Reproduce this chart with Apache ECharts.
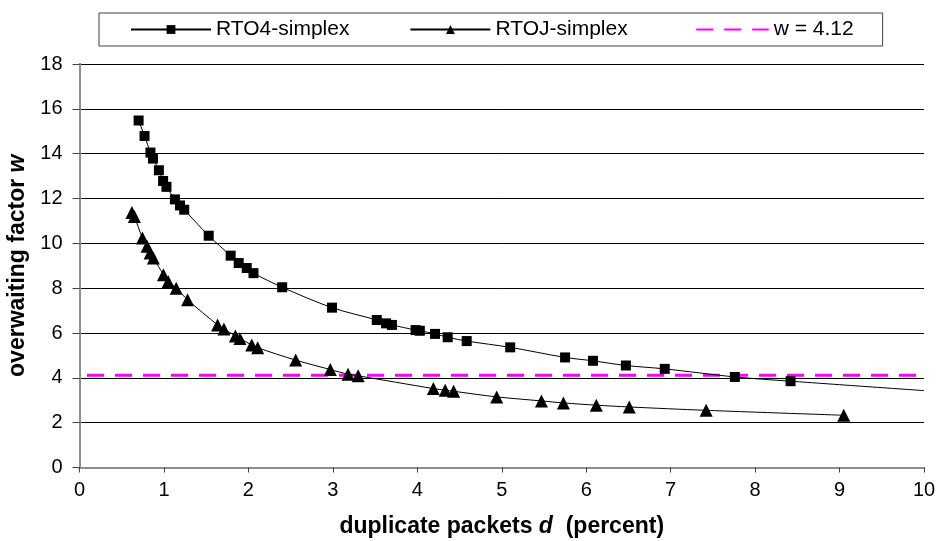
<!DOCTYPE html>
<html>
<head>
<meta charset="utf-8">
<script src="https://cdn.jsdelivr.net/npm/echarts@6/dist/echarts.min.js"></script>
<style>
  html, body { margin: 0; padding: 0; background: #fff; }
  #chart { width: 938px; height: 541px; }
</style>
</head>
<body>
<div id="chart"></div>
<script>
// duplicate packets d (percent) vs. overwaiting factor w
const rto4X = [0.70, 0.77, 0.84, 0.87, 0.94, 0.99, 1.03, 1.13, 1.19, 1.24, 1.53, 1.79, 1.885, 1.98, 2.06,
               2.40, 2.99, 3.52, 3.63, 3.70, 3.98, 4.03, 4.21, 4.36, 4.585, 5.10, 5.75, 6.08, 6.47, 6.93,
               7.76, 8.42, 10.0];
const rto4Y = [15.48, 14.79, 14.05, 13.78, 13.26, 12.78, 12.52, 11.96, 11.69, 11.50, 10.34, 9.45, 9.12, 8.90, 8.67,
               8.04, 7.13, 6.58, 6.43, 6.36, 6.13, 6.10, 5.96, 5.81, 5.64, 5.36, 4.91, 4.76, 4.55, 4.40,
               4.04, 3.85, 3.43];
// the curve runs on to the edge of the axis; that last point has no marker
const rto4Marked = 32;

const rtojX = [0.62, 0.65, 0.745, 0.80, 0.836, 0.875, 0.994, 1.05, 1.145, 1.28, 1.635, 1.71, 1.846, 1.90, 2.04,
               2.11, 2.56, 2.97, 3.18, 3.30, 4.19, 4.33, 4.43, 4.94, 5.47, 5.73, 6.12, 6.51, 7.42, 9.05];
const rtojY = [11.38, 11.2, 10.24, 9.87, 9.57, 9.35, 8.60, 8.30, 8.00, 7.48, 6.36, 6.18, 5.87, 5.76, 5.46,
               5.34, 4.79, 4.37, 4.16, 4.09, 3.52, 3.45, 3.40, 3.15, 2.97, 2.88, 2.78, 2.70, 2.55, 2.33];

const wLevel = 4.12;
const xRange = [0, 10];
const yRange = [0, 18];

const seriesNames = ['RTO4-simplex', 'RTOJ-simplex', 'w = ' + wLevel];

const FONT = '"Liberation Sans", Arial, sans-serif';

const rto4Data = rto4X.map((x, i) => {
  const item = { value: [x, rto4Y[i]] };
  if (i >= rto4Marked) item.symbol = 'none';
  return item;
});
const rtojData = rtojX.map((x, i) => [x, rtojY[i]]);
const wData = xRange.map(x => [x, wLevel]);

const titleRich = {
  n: { fontFamily: FONT, fontSize: 23, fontWeight: 'bold', color: '#000' },
  i: { fontFamily: FONT, fontSize: 23, fontWeight: 'bold', fontStyle: 'italic', color: '#000' }
};

const chart = echarts.init(document.getElementById('chart'), null, { renderer: 'canvas' });

chart.setOption({
  animation: false,
  backgroundColor: '#fff',
  textStyle: { fontFamily: FONT, color: '#000' },
  legend: {
    left: 99,
    top: 13,
    padding: [6, 29, 6, 31],
    itemGap: 60,
    itemWidth: 80,
    itemHeight: 11,
    borderColor: '#404040',
    borderWidth: 1,
    textStyle: { fontFamily: FONT, fontSize: 21, color: '#000' },
    data: [
      { name: seriesNames[0] },
      { name: seriesNames[1] },
      { name: seriesNames[2], itemStyle: { opacity: 0 } }
    ]
  },
  grid: { left: 79.5, right: 14, top: 64, bottom: 73.5, containLabel: false, outerBoundsMode: 'none' },
  xAxis: [{
    type: 'value',
    min: xRange[0], max: xRange[1], interval: 1,
    name: '{n|duplicate packets }{i|d}{n|  (percent)}',
    nameLocation: 'middle',
    nameGap: 48,
    nameTextStyle: { rich: titleRich },
    axisLine: { onZero: false, lineStyle: { color: '#404040', width: 2 } },
    axisTick: { show: true, inside: false, length: 5, lineStyle: { color: '#404040', width: 1 } },
    axisLabel: { fontFamily: FONT, fontSize: 20, color: '#000', margin: 13 },
    splitLine: { show: false }
  }, {
    type: 'value', position: 'top',
    min: xRange[0], max: xRange[1],
    axisLine: { show: true, lineStyle: { color: '#8c8c8c', width: 2 } },
    axisTick: { show: false }, axisLabel: { show: false }, splitLine: { show: false }
  }],
  yAxis: [{
    type: 'value',
    min: yRange[0], max: yRange[1], interval: 2,
    name: '{n|overwaiting factor }{i|w}',
    nameLocation: 'middle',
    nameGap: 50,
    nameTextStyle: { rich: titleRich },
    axisLine: { show: true, onZero: false, lineStyle: { color: '#404040', width: 2 } },
    axisTick: { show: true, inside: false, length: 7, lineStyle: { color: '#404040', width: 1 } },
    axisLabel: { fontFamily: FONT, fontSize: 20, color: '#000', margin: 17 },
    splitLine: { show: true, lineStyle: { color: '#000', width: 1 } }
  }, {
    type: 'value', position: 'right',
    min: yRange[0], max: yRange[1],
    axisLine: { show: true, lineStyle: { color: '#8c8c8c', width: 2 } },
    axisTick: { show: false }, axisLabel: { show: false }, splitLine: { show: false }
  }],
  series: [{
    name: seriesNames[0],
    type: 'line',
    data: rto4Data,
    smooth: 0.3,
    symbol: 'rect',
    symbolSize: 10,
    clip: true,
    lineStyle: { color: '#000', width: 1 },
    itemStyle: { color: '#000' },
    z: 3
  }, {
    name: seriesNames[1],
    type: 'line',
    data: rtojData,
    smooth: 0.3,
    symbol: 'triangle',
    symbolSize: 13,
    lineStyle: { color: '#000', width: 1 },
    itemStyle: { color: '#000' },
    z: 3
  }, {
    name: seriesNames[2],
    type: 'line',
    data: wData,
    symbol: 'none',
    lineStyle: { color: '#ff00ff', width: 3, type: [17, 11], dashOffset: 20.5 },
    itemStyle: { color: '#ff00ff' },
    z: 2
  }]
});
</script>
</body>
</html>
